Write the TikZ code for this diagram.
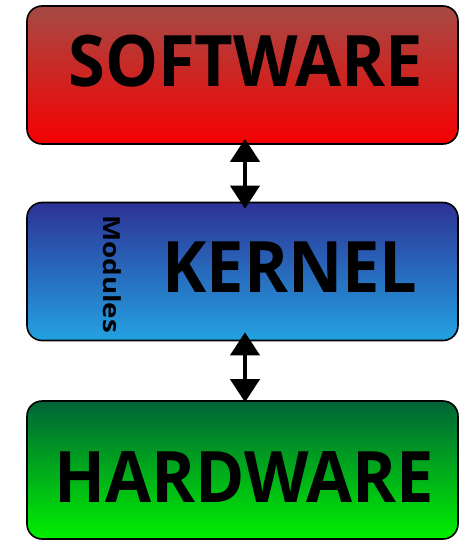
\documentclass[tikz,border=0pt]{standalone}
\usepackage{fontspec}
\setmainfont{Open Sans}[BoldFont={Open Sans Bold}]
\usetikzlibrary{arrows.meta}
\definecolor{swtop}{RGB}{165,74,69}
\definecolor{swbot}{RGB}{245,0,0}
\definecolor{kntop}{RGB}{45,50,150}
\definecolor{knbot}{RGB}{35,162,225}
\definecolor{hwtop}{RGB}{0,100,55}
\definecolor{hwbot}{RGB}{0,240,0}
\newcommand{\narrow}[1]{\scalebox{0.94}[1]{#1}}
\tikzset{
  layerbox/.style={draw=black, line width=1.6pt, rounded corners=15pt, minimum width=431pt, minimum height=138pt, inner sep=0pt},
  bigtext/.style={font=\bfseries\fontsize{71}{71}\selectfont, anchor=base, inner sep=0pt},
  dblarrow/.style={line width=4pt, {Triangle[width=29pt,length=23pt]}-{Triangle[width=29pt,length=23pt]}}
}
\begin{document}
\begin{tikzpicture}[x=1pt,y=1pt]
\useasboundingbox (0,0) rectangle (467,-540);
\node[layerbox, top color=swtop, bottom color=swbot] (sw) at (242.5,-75) {};
\node[layerbox, top color=kntop, bottom color=knbot] (kn) at (242.5,-271.5) {};
\node[layerbox, top color=hwtop, bottom color=hwbot] (hw) at (242.5,-470) {};
\node[bigtext] (swt) at (245.5,-87) {\narrow{SOFTWARE}};
\node[bigtext] (knt) at (290,-292) {\narrow{KERNEL}};
\node[bigtext] (hwt) at (244,-502) {\narrow{HARDWARE}};
\node[font=\bfseries\fontsize{23.5}{23.5}\selectfont, rotate=-90, anchor=base west, inner sep=0pt] (mod) at (103,-215) {\scalebox{1.18}[1]{Modules}};
\draw[dblarrow] ([xshift=2.5pt,yshift=6pt]sw.south) -- ([xshift=2.5pt,yshift=-7pt]kn.north);
\draw[dblarrow] ([xshift=2.5pt,yshift=9pt]kn.south) -- ([xshift=2.5pt,yshift=-2pt]hw.north);
\end{tikzpicture}
\end{document}
